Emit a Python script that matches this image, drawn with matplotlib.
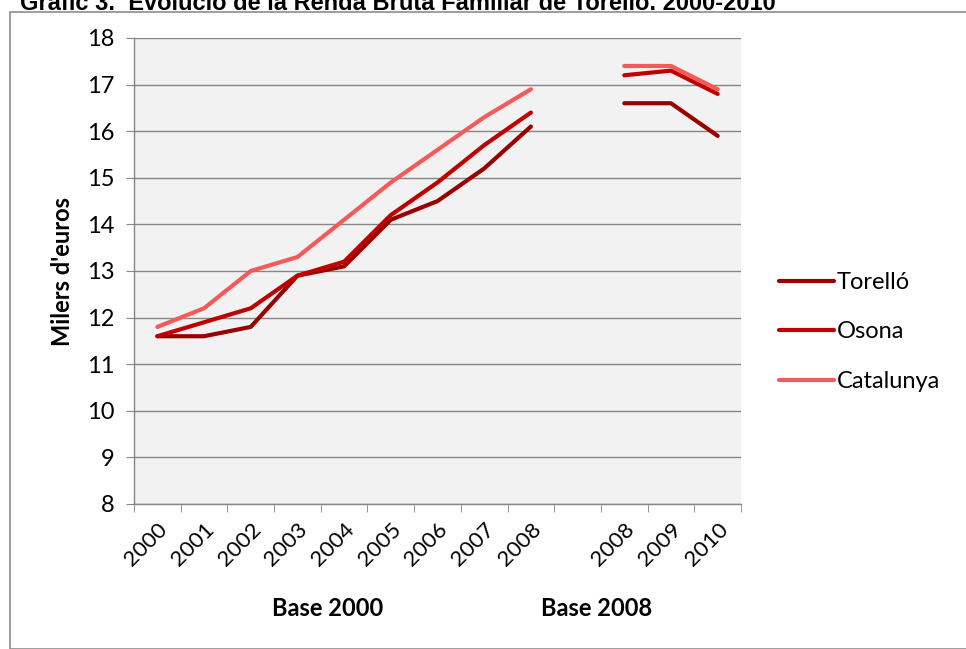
import matplotlib.pyplot as plt
from matplotlib.patches import Rectangle
import numpy as np

# --- dades ---
years_b2000 = ['2000', '2001', '2002', '2003', '2004', '2005', '2006', '2007', '2008']
years_b2008 = ['2008', '2009', '2010']

torello_b2000 = [11.6, 11.6, 11.8, 12.9, 13.1, 14.1, 14.5, 15.2, 16.1]
osona_b2000 = [11.6, 11.9, 12.2, 12.9, 13.2, 14.2, 14.9, 15.7, 16.4]
catalunya_b2000 = [11.8, 12.2, 13.0, 13.3, 14.1, 14.9, 15.6, 16.3, 16.9]

torello_b2008 = [16.6, 16.6, 15.9]
osona_b2008 = [17.2, 17.3, 16.8]
catalunya_b2008 = [17.4, 17.4, 16.9]

series_names = ['Torelló', 'Osona', 'Catalunya']
COLORS = ['#990000', '#C00000', '#F55A5A']
FONT = 'Lato'

fig = plt.figure(figsize=(9.66, 6.49), dpi=100)
fig.patch.set_facecolor('white')

# marc exterior
fig.patches.append(Rectangle((9.5 / 966, 0), 2, (649 - 11.5) / 649, transform=fig.transFigure,
                             fill=False, edgecolor='#8c8c8c', lw=1.2, zorder=0))

# titol (tallat a dalt, com a l'original)
fig.text(20 / 966, 0.994, "Gràfic 3.  Evolució de la Renda Bruta Familiar de Torelló. 2000-2010",
         family='Liberation Sans', fontsize=17, fontweight='bold', color='black',
         ha='left', va='center')

ax = fig.add_axes([134 / 966, (649 - 504) / 649, (741 - 134) / 966, (504 - 38) / 649])
ax.set_facecolor('#F2F2F2')

x_b2000 = np.arange(len(years_b2000))
x_b2008 = np.arange(len(years_b2008)) + len(years_b2000) + 1

data_b2000 = [torello_b2000, osona_b2000, catalunya_b2000]
data_b2008 = [torello_b2008, osona_b2008, catalunya_b2008]
for name, c, y0, y1 in zip(series_names, COLORS, data_b2000, data_b2008):
    ax.plot(x_b2000, y0, color=c, lw=3.0, solid_capstyle='round', label=name, zorder=3)
    ax.plot(x_b2008, y1, color=c, lw=3.0, solid_capstyle='round', zorder=3)

n_slots = len(years_b2000) + 1 + len(years_b2008)
ax.set_xlim(-0.5, n_slots - 0.5)
ax.set_ylim(8, 18)
ax.set_yticks(range(8, 19))
ax.grid(axis='y', color='#868686', lw=1.0, zorder=1)
ax.set_axisbelow(True)

labels = years_b2000 + [''] + years_b2008
ax.set_xticks(np.arange(n_slots))
ax.set_xticklabels(labels, rotation=45, ha='right', rotation_mode='anchor',
                   family=FONT, fontsize=16)
ax.set_xticks(np.arange(n_slots + 1) - 0.5, minor=True)
ax.tick_params(axis='x', which='major', length=0, pad=11)
ax.tick_params(axis='x', which='minor', length=6, color='#868686', direction='out')
ax.tick_params(axis='y', length=6, color='#868686', direction='out', pad=8)
for lab in ax.get_yticklabels():
    lab.set_family(FONT)
    lab.set_fontsize(17)

for side in ['top', 'right']:
    ax.spines[side].set_visible(False)
for side in ['left', 'bottom']:
    ax.spines[side].set_color('#868686')
    ax.spines[side].set_linewidth(1.0)

ax.set_ylabel("Milers d'euros", family=FONT, fontsize=17, fontweight='bold', labelpad=9)

fig.text(328 / 966, (649 - 608) / 649, 'Base 2000', family=FONT, fontsize=17,
         fontweight='bold', ha='center', va='center')
fig.text(597 / 966, (649 - 608) / 649, 'Base 2008', family=FONT, fontsize=17,
         fontweight='bold', ha='center', va='center')

handles, leg_labels = ax.get_legend_handles_labels()
fig.legend(handles, leg_labels, loc='center left', bbox_to_anchor=(779 / 966, (649 - 332) / 649),
           frameon=False, handlelength=2.35, handletextpad=0.08, labelspacing=1.2,
           borderpad=0, borderaxespad=0, prop={'family': FONT, 'size': 17})

fig.savefig('out.png', dpi=100, facecolor='white')
